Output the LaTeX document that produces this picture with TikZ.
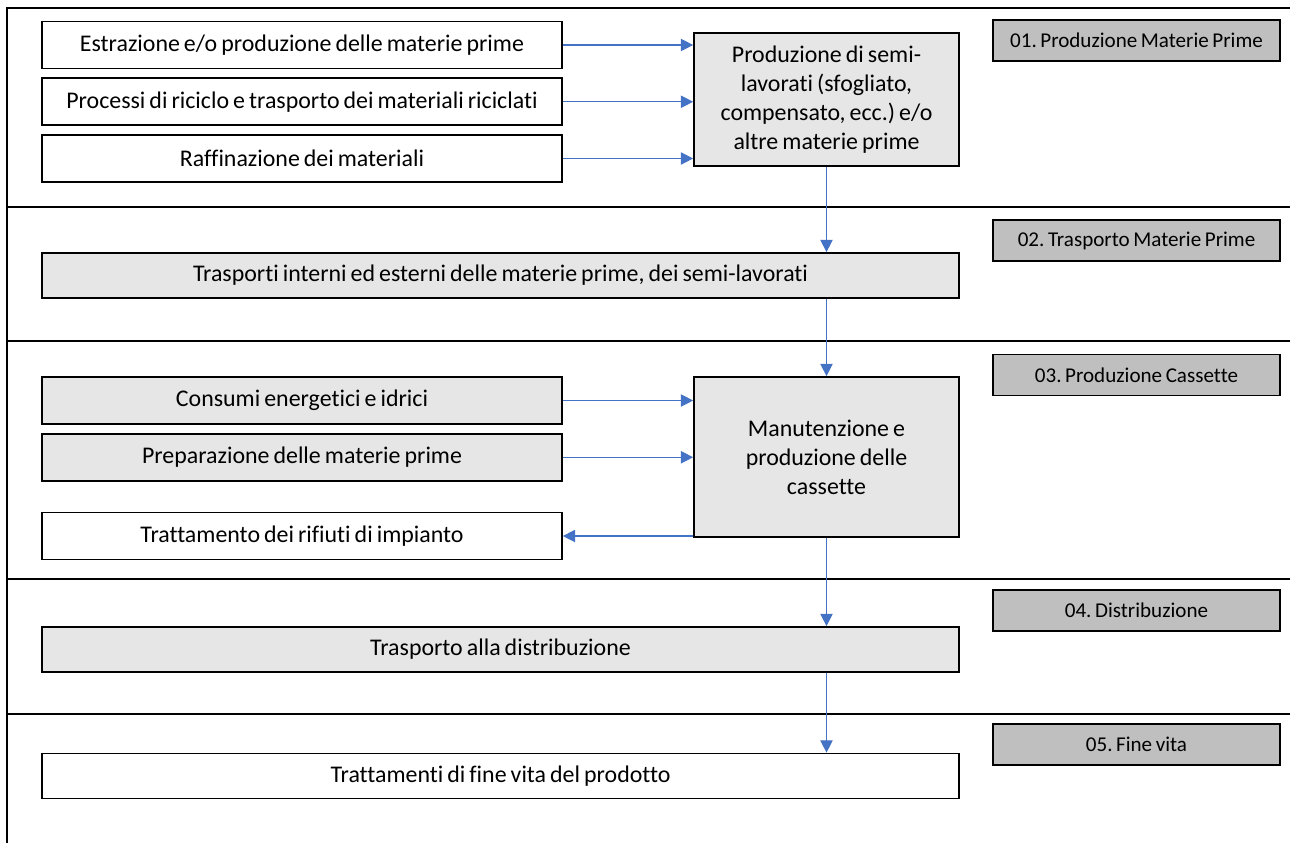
\documentclass[tikz,border=0pt]{standalone}
\usepackage{fontspec}
\setmainfont{Carlito}[Ligatures=NoCommon, WordSpace=0.75]
\usetikzlibrary{arrows.meta,positioning}
\definecolor{boxgray}{HTML}{E7E6E6}
\definecolor{phasegray}{HTML}{BFBFBF}
\definecolor{flowblue}{HTML}{4472C4}
\frenchspacing

\begin{document}
\begin{tikzpicture}[
  x=0.02cm, y=-0.02cm,
  font=\fontsize{13.6}{16.5}\selectfont,
  node distance=0.16cm and 2.64cm,
  src/.style={draw, line width=1pt, minimum width=10.4cm, minimum height=0.94cm, inner sep=0pt, fill=white},
  srcg/.style={src, fill=boxgray},
  proc/.style={draw, line width=1pt, align=center, minimum width=5.3cm, fill=boxgray, inner sep=0pt},
  wide/.style={draw, line width=1pt, minimum width=18.34cm, minimum height=0.9cm, inner sep=0pt},
  phase/.style={draw, line width=1pt, fill=phasegray, minimum width=5.74cm, minimum height=0.82cm, inner sep=0pt, font=\fontsize{12}{14}\selectfont},
  sep/.style={line width=1.2pt},
  arrow/.style={-{Triangle[length=7pt, width=7pt]}, flowblue, line width=0.7pt}
]
\useasboundingbox (0,0) rectangle (1290,843);
% frame and phase separators
\draw[sep] (1290,8) -- (7,8) -- (7,843);
\foreach \y in {207,341,579,714}
  \draw[sep] (7,\y) -- (1290,\y);

% phase labels
\node[phase] (ph1) at (1136.5,40.5) {01. Produzione Materie Prime};
\node[phase] (ph2) at (1136.5,240.5) {02. Trasporto Materie Prime};
\node[phase] (ph3) at (1136.5,375) {03. Produzione Cassette};
\node[phase] (ph4) at (1136.5,610.5) {04. Distribuzione};
\node[phase] (ph5) at (1136.5,744.5) {05. Fine vita};

% 01
\node[src] (estr) at (302,45) {Estrazione e/o produzione delle materie prime};
\node[src, below=of estr] (ricic) {Processi di riciclo e trasporto dei materiali riciclati};
\node[src, below=of ricic] (raff) {Raffinazione dei materiali};
\node[proc, minimum height=2.66cm] (semi) at (826.5,99.5) {Produzione di semi-\\lavorati (sfogliato,\\compensato, ecc.) e/o\\altre materie prime};
% 02
\node[wide, fill=boxgray] (trint) at (500.5,275.5) {Trasporti interni ed esterni delle materie prime, dei semi-lavorati};
% 03
\node[srcg] (cons) at (302,400.5) {Consumi energetici e idrici};
\node[srcg, below=of cons] (prep) {Preparazione delle materie prime};
\node[src] (rifiuti) at (302,536) {Trattamento dei rifiuti di impianto};
\node[proc, minimum height=3.2cm] (manut) at (826.5,457) {Manutenzione e\\produzione delle\\cassette};
% 04 / 05
\node[wide, fill=boxgray] (distr) at (500.5,649.5) {Trasporto alla distribuzione};
\node[wide, fill=white] (fine) at (500.5,776) {Trattamenti di fine vita del prodotto};

\draw[arrow] (estr.east) -- (estr.east -| semi.west);
\draw[arrow] (ricic.east) -- (ricic.east -| semi.west);
\draw[arrow] (raff.east) -- (raff.east -| semi.west);
\draw[arrow] (semi.south) -- (semi.south |- trint.north);
\draw[arrow] (trint.south -| manut.north) -- (manut.north);
\draw[arrow] (cons.east) -- (cons.east -| manut.west);
\draw[arrow] (prep.east) -- (prep.east -| manut.west);
\draw[arrow] (rifiuti.east -| manut.west) -- (rifiuti.east);
\draw[arrow] (manut.south) -- (manut.south |- distr.north);
\draw[arrow] (distr.south -| manut.south) -- (fine.north -| manut.south);
\end{tikzpicture}
\end{document}
